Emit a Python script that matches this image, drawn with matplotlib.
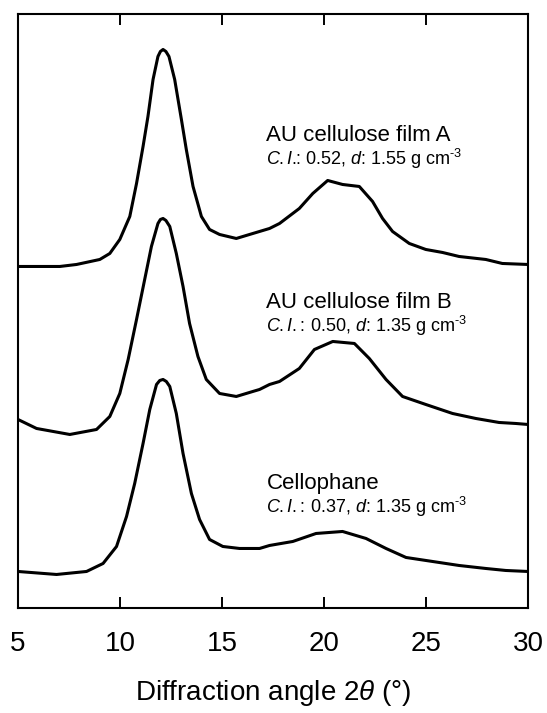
import matplotlib
matplotlib.use("Agg")
import matplotlib.pyplot as plt

plt.rcParams["font.family"] = ["Liberation Sans", "DejaVu Sans"]
plt.rcParams["mathtext.fontset"] = "custom"
plt.rcParams["mathtext.rm"] = "Liberation Sans"
plt.rcParams["mathtext.it"] = "Liberation Sans:italic"

# diffraction angle 2theta (deg) and intensity (a.u., curves stacked with offset)
angle_a = [5.00, 7.05, 7.87, 9.01, 9.50, 9.99, 10.48, 10.81, 11.13, 11.37, 11.62, 11.86,
           11.98, 12.11, 12.25, 12.40, 12.68, 13.01, 13.25, 13.58, 13.99, 14.39, 14.88,
           15.70, 16.35, 16.84, 17.33, 17.82, 18.79, 19.45, 20.18, 20.91, 21.73, 22.38,
           22.87, 23.36, 24.18, 24.99, 25.81, 26.62, 27.93, 28.74, 30.00]
film_a = [342, 342, 344, 349, 355, 369, 392, 425, 462, 492, 529, 552,
          557, 559, 557, 552, 529, 489, 459, 422, 392, 379, 374,
          370, 374, 377, 380, 385, 400, 415, 428, 424, 422, 407,
          390, 377, 365, 359, 356, 352, 349, 345, 344]

angle_b = [5.00, 5.91, 7.54, 8.85, 9.50, 9.99, 10.40, 10.81, 11.21, 11.54, 11.86, 11.98,
           12.11, 12.25, 12.44, 12.76, 13.09, 13.41, 13.82, 14.23, 14.88, 15.70, 16.51,
           16.84, 17.33, 17.82, 18.79, 19.53, 20.43, 21.49, 22.22, 23.04, 23.85, 24.99,
           26.30, 27.44, 28.58, 29.40, 30.00]
film_b = [189, 180, 174, 179, 192, 215, 249, 289, 329, 362, 385, 389,
          390, 388, 382, 355, 322, 285, 252, 229, 215, 212, 217,
          219, 224, 227, 240, 259, 267, 265, 250, 229, 212, 204,
          195, 190, 186, 185, 184]

angle_c = [5.00, 6.89, 8.36, 9.17, 9.83, 10.32, 10.72, 11.13, 11.46, 11.79, 11.95, 12.11,
           12.27, 12.44, 12.76, 13.09, 13.50, 13.90, 14.39, 15.04, 15.86, 16.84, 17.33,
           18.47, 19.61, 20.91, 22.06, 23.04, 24.02, 25.32, 26.62, 27.93, 28.91, 30.00]
cellophane = [37, 34, 37, 45, 62, 92, 125, 165, 199, 224, 228, 229,
              227, 222, 195, 155, 115, 89, 69, 62, 60, 60, 63,
              67, 75, 77, 70, 60, 51, 47, 43, 40, 38, 37]

names = ["AU cellulose film A", "AU cellulose film B", "Cellophane"]
notes = [r"$\mathit{C.I.}\!\!$: 0.52, $\mathit{d}$: 1.55 g cm$^{\text{-3}}$",
         r"$\mathit{C.I.}$: 0.50, $\mathit{d}$: 1.35 g cm$^{\text{-3}}$",
         r"$\mathit{C.I.}$: 0.37, $\mathit{d}$: 1.35 g cm$^{\text{-3}}$"]
name_y = [467, 300, 119]
note_y = [443, 276, 95]

fig = plt.figure(figsize=(5.47, 7.13), dpi=100)
ax = fig.add_axes([0.0329, 0.1466, 0.9324, 0.8331])

for x, y in [(angle_a, film_a), (angle_b, film_b), (angle_c, cellophane)]:
    ax.plot(x, y, color="black", lw=2.2, solid_joinstyle="round")

for name, note, yn, yc in zip(names, notes, name_y, note_y):
    ax.text(17.18, yn, name, fontsize=16, ha="left", va="baseline")
    ax.text(17.18, yc, note, fontsize=13, ha="left", va="baseline")

ax.set_xlim(5, 30)
ax.set_ylim(0, 594)
ax.set_xticks(range(5, 31, 5))
ax.set_yticks([])
ax.tick_params(axis="x", direction="in", top=True, length=7.7, width=1.4,
               labelsize=20, pad=16)
for s in ax.spines.values():
    s.set_linewidth(1.5)
ax.set_xlabel(r"Diffraction angle 2$\mathit{\theta}$ (°)", fontsize=20, labelpad=15)

fig.savefig("out.png", dpi=100)
